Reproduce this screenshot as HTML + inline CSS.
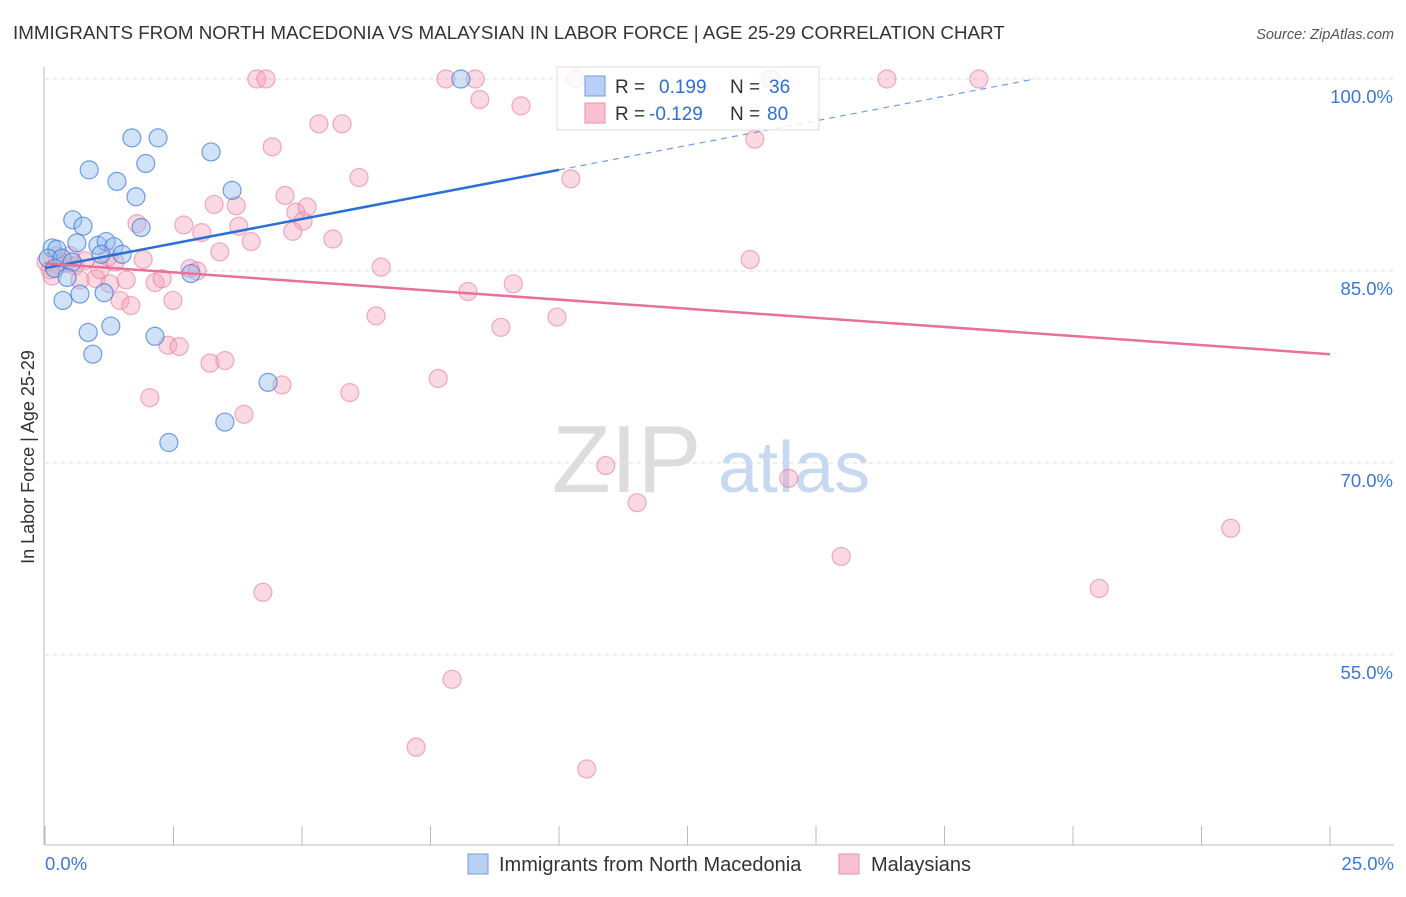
<!DOCTYPE html>
<html><head><meta charset="utf-8"><style>
body{margin:0;background:#fff;font-family:"Liberation Sans",sans-serif;}
svg text{font-family:"Liberation Sans",sans-serif;}
</style></head><body>
<svg id="chart" width="1406" height="892" xmlns="http://www.w3.org/2000/svg">
<text x="13" y="39" font-size="18.8" fill="#333">IMMIGRANTS FROM NORTH MACEDONIA VS MALAYSIAN IN LABOR FORCE | AGE 25-29 CORRELATION CHART</text>
<text x="1394" y="39" font-size="14.5" fill="#555" font-style="italic" text-anchor="end">Source: ZipAtlas.com</text>
<g id="grid"></g>
<text x="552" y="492" font-size="96" fill="#ddd" font-family="Liberation Serif">ZIP</text>
<text x="718" y="492" font-size="72" fill="#c8d8f0">atlas</text>
<g id="axes"></g>
<g id="pts"></g>
<g id="lines"></g>
<g>
<rect x="557" y="67" width="262" height="63" fill="rgba(255,255,255,0.8)" stroke="#ddd"/>
<rect x="585" y="76" width="20" height="20" fill="#b8d0f4" stroke="#6f9ee0"/>
<rect x="585" y="103" width="20" height="20" fill="#f8c0d0" stroke="#e890ac"/>
<text x="615" y="93" font-size="19" fill="#333">R = <tspan fill="#2d6fd6" x="659">0.199</tspan><tspan fill="#333" x="730">N =</tspan><tspan fill="#2d6fd6" x="769">36</tspan></text>
<text x="615" y="120" font-size="19" fill="#333">R = <tspan fill="#2d6fd6" x="649">-0.129</tspan><tspan fill="#333" x="730">N =</tspan><tspan fill="#2d6fd6" x="767">80</tspan></text>
</g>
<g>
<rect x="468" y="854" width="20" height="20" fill="#b8d0f4" stroke="#6f9ee0"/>
<text x="499" y="871" font-size="20" fill="#333">Immigrants from North Macedonia</text>
<rect x="839" y="854" width="20" height="20" fill="#f8c0d0" stroke="#e890ac"/>
<text x="871" y="871" font-size="20" fill="#333">Malaysians</text>
</g>
<text transform="translate(34,457) rotate(-90)" font-size="18" fill="#333" text-anchor="middle">In Labor Force | Age 25-29</text>
</svg>
<script>
const yTicks=[100,85,70,55];
const yTickLabels=["100.0%","85.0%","70.0%","55.0%"];
const xTickLabels=["0.0%","25.0%"];
const blueX=[8.09,1.69,2.20,3.23,0.86,1.96,1.40,3.64,1.77,0.54,0.74,1.87,0.14,0.23,0.62,1.03,1.19,1.34,1.50,1.09,0.06,0.33,0.53,0.19,0.43,2.84,0.35,0.68,1.15,0.84,1.28,2.14,0.93,4.34,3.50,2.41];
const blueY=[100,95.4,95.4,94.3,92.9,93.4,92.0,91.3,90.8,89.0,88.5,88.4,86.8,86.7,87.2,87.0,87.3,86.9,86.3,86.3,86.0,86.0,85.7,85.2,84.5,84.8,82.7,83.2,83.3,80.2,80.7,79.9,78.5,76.3,73.2,71.6];
const pinkX=[4.12,4.30,7.80,8.37,10.33,14.12,16.38,18.17,8.46,9.26,5.33,5.78,13.81,4.42,6.11,10.23,4.67,3.29,3.72,4.88,5.10,5.02,2.70,3.05,3.77,1.79,4.82,4.01,5.60,3.40,1.91,1.23,0.78,0.41,0.58,0.27,0.10,0.14,2.82,2.96,6.54,13.72,0.68,0.99,1.26,1.58,2.14,2.28,1.46,1.67,2.49,8.23,9.11,6.44,8.87,9.96,2.39,2.61,3.21,3.50,4.61,2.04,5.93,7.65,3.87,10.91,14.47,11.52,15.49,23.07,20.51,4.24,7.92,7.22,10.54,0.23,0.49,0.02,1.36,1.07];
const pinkY=[100,100,100,100,100,100,100,100,98.4,97.9,96.5,96.5,95.3,94.7,92.3,92.2,90.9,90.2,90.1,89.6,90.0,88.9,88.6,88.0,88.5,88.7,88.1,87.3,87.5,86.5,85.9,86.1,85.8,85.6,85.4,85.5,85.1,84.6,85.2,85.0,85.3,85.9,84.3,84.4,84.0,84.3,84.1,84.4,82.7,82.3,82.7,83.4,84.0,81.5,80.6,81.4,79.2,79.1,77.8,78.0,76.1,75.1,75.5,76.6,73.8,69.8,68.8,66.9,62.7,64.9,60.2,59.9,53.1,47.8,46.1,86.2,86.2,85.7,85.7,85.1];
const blueTrend=[85.23,92.9];   // y at x=0, x=10
const pinkTrend=[85.6,78.5];    // y at x=0, x=25

const NS="http://www.w3.org/2000/svg";
const X=v=>45+v*51.4;
const Y=v=>79+(100-v)*12.8;
function mk(tag,attrs,parent){const e=document.createElementNS(NS,tag);for(const k in attrs)e.setAttribute(k,attrs[k]);parent.appendChild(e);return e;}
const grid=document.getElementById('grid'),axes=document.getElementById('axes'),pts=document.getElementById('pts'),lines=document.getElementById('lines');
yTicks.forEach((t,i)=>{
  const l=mk('line',{x1:45,x2:1394,y1:Y(t),y2:Y(t),stroke:'#ddd','stroke-dasharray':'4,4'},grid);
  
  
  const tx=mk('text',{x:1393,y:Y(t)+24,'font-size':18.5,fill:'#3b78d8','text-anchor':'end'},axes);
  tx.textContent=yTickLabels[i];
  
  
});
const ax=mk('line',{x1:45,x2:1394,y1:845,y2:845,stroke:'#bbb'},axes);


const ay=mk('line',{x1:44,x2:44,y1:67,y2:845,stroke:'#bbb'},axes);


for(let i=0;i<=10;i++){
  const tk=mk('line',{x1:X(i*2.5),x2:X(i*2.5),y1:826,y2:845,stroke:'#bbb'},axes);
  
  
}
const xl0=mk('text',{x:45,y:870,'font-size':18.5,fill:'#3b78d8'},axes);
xl0.textContent=xTickLabels[0];


const xl1=mk('text',{x:1394,y:870,'font-size':18.5,fill:'#3b78d8','text-anchor':'end'},axes);
xl1.textContent=xTickLabels[1];


pinkX.forEach((v,i)=>{
  const c=mk('circle',{cx:X(v),cy:Y(pinkY[i]),r:9,fill:'rgba(244,160,185,0.4)',stroke:'rgba(232,120,155,0.6)','stroke-width':1.2},pts);
  
  
});
blueX.forEach((v,i)=>{
  const c=mk('circle',{cx:X(v),cy:Y(blueY[i]),r:9,fill:'rgba(150,190,240,0.45)',stroke:'rgba(60,120,215,0.7)','stroke-width':1.2},pts);
  
  
});
const bs=(blueTrend[1]-blueTrend[0])/10;
const bl=mk('line',{x1:X(0),y1:Y(blueTrend[0]),x2:X(10),y2:Y(blueTrend[1]),stroke:'#2a6fd4','stroke-width':2.5},lines);


const xEnd=(100-blueTrend[0])/bs;
const bd=mk('line',{x1:X(10),y1:Y(blueTrend[1]),x2:X(xEnd),y2:Y(100),stroke:'#6f9ee0','stroke-width':1.2,'stroke-dasharray':'6,5'},lines);


const pl=mk('line',{x1:X(0),y1:Y(pinkTrend[0]),x2:X(25),y2:Y(pinkTrend[1]),stroke:'#e8709a','stroke-width':2.5},lines);


</script>
</body></html>
